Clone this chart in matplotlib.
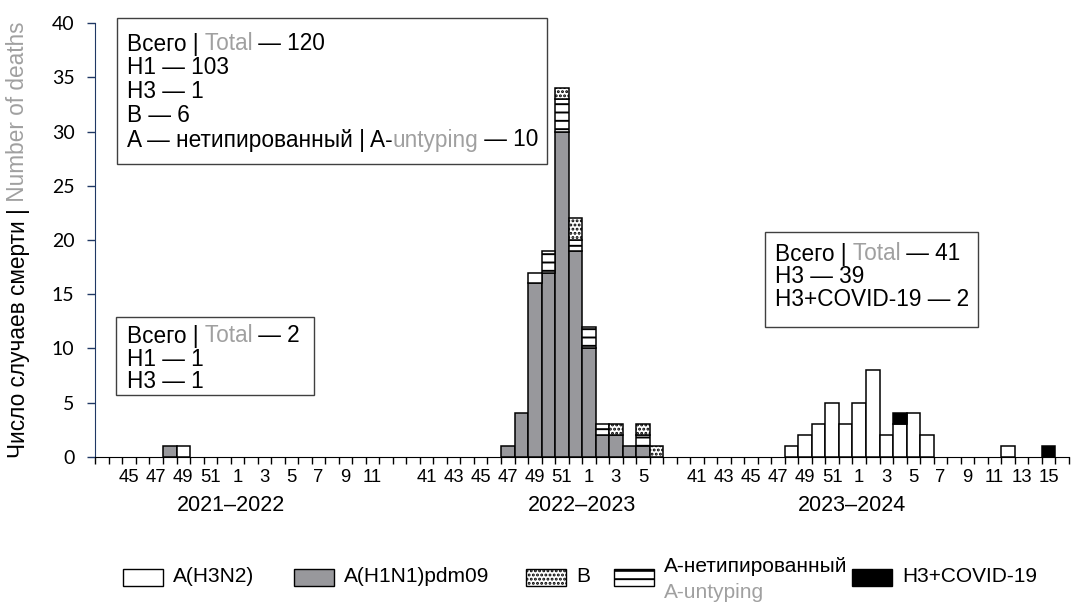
import matplotlib
matplotlib.use("Agg")
import matplotlib.pyplot as plt
from matplotlib.patches import Rectangle
from matplotlib.ticker import FixedLocator, NullFormatter
import numpy as np

plt.rcParams['font.family'] = ['Liberation Sans', 'DejaVu Sans']
plt.rcParams['hatch.linewidth'] = 1.4

# Weeks shown for each season (a blank category goes before each season)
seasons = ['2021–2022', '2022–2023', '2023–2024']
weeks_2122 = list(range(44, 53)) + list(range(1, 13))
weeks_2223 = list(range(40, 53)) + list(range(1, 7))
weeks_2324 = list(range(40, 53)) + list(range(1, 17))
season_weeks = [weeks_2122, weeks_2223, weeks_2324]

# Deaths by week, one dict per season: {week: count}
h1n1 = [{48: 1},
        {47: 1, 48: 4, 49: 16, 50: 17, 51: 30, 52: 19, 1: 10, 2: 2, 3: 2, 4: 1, 5: 1},
        {}]
h3n2 = [{49: 1},
        {49: 1},
        {48: 1, 49: 2, 50: 3, 51: 5, 52: 3, 1: 5, 2: 8, 3: 2, 4: 3, 5: 4, 6: 2, 12: 1}]
untyped = [{},
           {50: 2, 51: 3, 52: 1, 1: 2, 2: 1, 5: 1},
           {}]
flu_b = [{},
         {51: 1, 52: 2, 3: 1, 5: 1, 6: 1},
         {}]
covid = [{},
         {},
         {4: 1, 15: 1}]

series = [('A(H1N1)pdm09', h1n1), ('A(H3N2)', h3n2), ('A-нетипированный', untyped),
          ('B', flu_b), ('H3+COVID-19', covid)]
styles = {
    'A(H3N2)': dict(facecolor='white'),
    'A(H1N1)pdm09': dict(facecolor='#98989c'),
    'B': dict(facecolor='white', hatch='....'),
    'A-нетипированный': dict(facecolor='white', hatch='--'),
    'H3+COVID-19': dict(facecolor='black'),
}
GREY = '#a0a0a0'
BOX_FS = 16.3
LEG_FS = 15

# flat category list
cats = []
for weeks in season_weeks:
    cats.append('')
    cats.extend(weeks)


def spread(per_season):
    out = []
    for weeks, d in zip(season_weeks, per_season):
        out.append(0)
        out.extend(d.get(w, 0) for w in weeks)
    return np.array(out)


W, H = 1080, 605
fig = plt.figure(figsize=(W / 100, H / 100), dpi=100)
ax = fig.add_axes([95.4 / W, (H - 456.7) / H, (1068.8 - 95.4) / W, (456.7 - 23.3) / H])

x = np.arange(len(cats))
bottom = np.zeros(len(cats))
for name, data in series:
    vals = spread(data)
    m = vals > 0
    ax.bar(x[m], vals[m], bottom=bottom[m], width=1.0, edgecolor='black',
           linewidth=1.1, zorder=3, **styles[name])
    bottom += vals

ax.set_xlim(-0.5, len(cats) - 0.5)
ax.set_ylim(0, 40)
ax.set_yticks(range(0, 41, 5))
for lab in ax.get_yticklabels():
    lab.set_fontfamily(['Lato', 'DejaVu Sans'])
    lab.set_fontsize(14)
ax.tick_params(axis='y', direction='out', length=6, width=1, color='#203864', pad=9)

# x labels: every second category, as Excel does
lab_pos = [i for i in range(0, len(cats), 2) if cats[i] != '']
ax.set_xticks(lab_pos)
ax.set_xticklabels([str(cats[i]) for i in lab_pos], fontsize=13.3)
ax.xaxis.set_minor_locator(FixedLocator(np.arange(len(cats) + 1) - 0.5))
ax.xaxis.set_minor_formatter(NullFormatter())
ax.tick_params(axis='x', which='major', length=0, pad=9)
ax.tick_params(axis='x', which='minor', direction='out', length=5, width=1, color='black')

for s in ['top', 'right']:
    ax.spines[s].set_visible(False)
ax.spines['left'].set_color('#203864')
ax.spines['bottom'].set_color('black')

# season labels centred on the new-year boundary
start = 0
for name, weeks in zip(seasons, season_weeks):
    i1 = start + 1 + weeks.index(1)
    ax.text(i1 - 0.5, -0.112, name, transform=ax.get_xaxis_transform(),
            ha='center', va='center', fontsize=15.5)
    start += len(weeks) + 1

fig.canvas.draw()
renderer = fig.canvas.get_renderer()


def put_row(xp, yp, pieces, size=BOX_FS, rotation=0):
    for txt, col in pieces:
        t = fig.text(xp / W, 1 - yp / H, txt, color=col, fontsize=size,
                     ha='left', va='center', rotation=rotation,
                     rotation_mode='anchor', zorder=10)
        bb = t.get_window_extent(renderer)
        if rotation:
            yp -= bb.height
        else:
            xp += bb.width


def box(x0, y0, x1, y1):
    fig.patches.append(Rectangle((x0 / W, 1 - y1 / H), (x1 - x0) / W, (y1 - y0) / H,
                                 transform=fig.transFigure, facecolor='white',
                                 edgecolor='#404040', linewidth=1.0, zorder=5))


def total(data):
    return sum(data.values())


def season_total(s):
    return sum(total(d[s]) for _, d in series)


s = 1
box(117, 18, 547, 164)
rows = [
    [('Всего |', 'black'), (' Total', GREY), (f' — {season_total(s)}', 'black')],
    [(f'H1 — {total(h1n1[s])}', 'black')],
    [(f'H3 — {total(h3n2[s])}', 'black')],
    [(f'B — {total(flu_b[s])}', 'black')],
    [('A — нетипированный | A-', 'black'), ('untyping', GREY), (f' — {total(untyped[s])}', 'black')],
]
for k, r in enumerate(rows):
    put_row(127, 44 + 24 * k, r)

s = 0
box(116, 317, 314, 395)
rows = [
    [('Всего |', 'black'), (' Total', GREY), (f' — {season_total(s)}', 'black')],
    [(f'H1 — {total(h1n1[s])}', 'black')],
    [(f'H3 — {total(h3n2[s])}', 'black')],
]
for k, r in enumerate(rows):
    put_row(127, 336 + 23 * k, r)

s = 2
box(765, 232, 978, 327)
rows = [
    [('Всего |', 'black'), (' Total', GREY), (f' — {season_total(s)}', 'black')],
    [(f'H3 — {total(h3n2[s])}', 'black')],
    [(f'H3+COVID-19 — {total(covid[s])}', 'black')],
]
for k, r in enumerate(rows):
    put_row(775, 254 + 23 * k, r)

# y label in two colours
yl = [('Число случаев смерти |', 'black'), (' Number of deaths', GREY)]
lens = []
for txt, col in yl:
    t = fig.text(0, 0, txt, fontsize=16.3, rotation=90)
    lens.append(t.get_window_extent(renderer).height)
    t.remove()
ycen = (456.7 + 23.3) / 2
put_row(18, ycen + sum(lens) / 2, yl, size=16.3, rotation=90)

# legend, laid out by hand like the Excel one
order = ['A(H3N2)', 'A(H1N1)pdm09', 'B', 'A-нетипированный', 'H3+COVID-19']
key_x = [123, 294, 526, 614, 852]
key_w, key_h, key_y = 40, 17, 577
for name, kx in zip(order, key_x):
    fig.patches.append(Rectangle((kx / W, 1 - (key_y + key_h / 2) / H), key_w / W, key_h / H,
                                 transform=fig.transFigure, edgecolor='black',
                                 linewidth=1.0, zorder=5, **styles[name]))
    tx = (kx + key_w + 10) / W
    if name == 'A-нетипированный':
        fig.text(tx, 1 - 567 / H, name, fontsize=LEG_FS, ha='left', va='center')
        fig.text(tx, 1 - 593 / H, 'A-untyping', fontsize=LEG_FS, color=GREY,
                 ha='left', va='center')
    else:
        fig.text(tx, 1 - key_y / H, name, fontsize=LEG_FS, ha='left', va='center')

fig.savefig('out.png', dpi=100)
